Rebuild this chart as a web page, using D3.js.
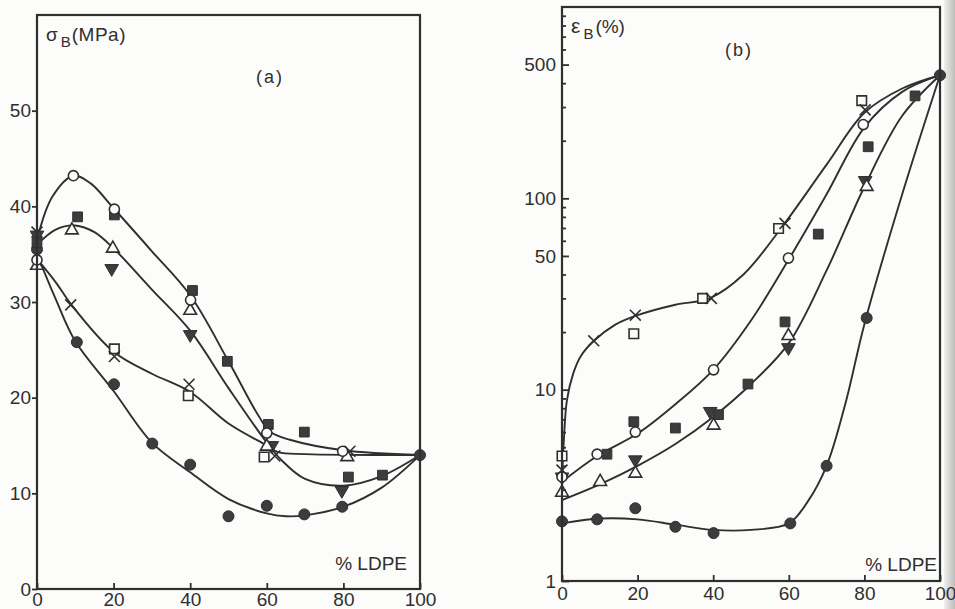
<!DOCTYPE html>
<html>
<head>
<meta charset="utf-8">
<script src="https://cdn.jsdelivr.net/npm/d3@7.9.0/dist/d3.min.js"></script>
<style>
  body { margin: 0; background: #fcfcfa; }
  svg { display: block; }
  text { font-family: "Liberation Sans", Arial, sans-serif; fill: #2f2f2f; }
</style>
</head>
<body>
<svg id="chart" width="955" height="609"></svg>
<script>
// tick labels
const pctTicks = [0, 20, 40, 60, 80, 100];
const stressTicks = [0, 10, 20, 30, 40, 50];
const strainTicks = [1, 10, 50, 100, 500];
const strainMinor = [2, 3, 4, 5, 6, 7, 8, 9, 20, 30, 40, 60, 70, 80, 90, 200, 300, 400, 600, 700, 800, 900];

// (a) tensile strength, [% LDPE, MPa]
const aOpenCircle = [[0, 34.4], [9.5, 43.2], [20.2, 39.7], [40.1, 30.2], [60, 16.3], [79.8, 14.4]];
const aFilledSquare = [[0, 36.2], [10.6, 38.9], [20.2, 39.1], [40.6, 31.2], [49.7, 23.8], [60.4, 17.2], [69.8, 16.4], [81.3, 11.7], [90.2, 11.9]];
const aOpenTriangle = [[0, 33.8], [9.1, 37.5], [19.8, 35.6], [40, 29.1], [60, 14.9], [81, 13.8]];
const aDownTriangle = [[0, 37], [19.5, 33.5], [40, 26.6], [61.3, 15], [79.6, 10.3]];
const aCross = [[0, 37.3], [8.8, 29.7], [20.2, 24.3], [39.7, 21.4], [62.1, 13.9], [81.7, 14.4]];
const aOpenSquare = [[20.2, 25.1], [39.5, 20.2], [59.3, 13.8]];
const aFilledCircle = [[0, 35.5], [10.4, 25.8], [20.1, 21.4], [30.1, 15.2], [40, 13], [50, 7.6], [60, 8.7], [69.8, 7.8], [79.7, 8.6], [100, 14]];

// (a) drawn fit curves
const aFitTop = [[0, 36.5], [4, 41], [9.5, 43.2], [14, 42.4], [20, 39.8], [30, 35.3], [40, 30.7], [50, 23.8], [58, 18], [61, 16.4], [66, 15.6], [80, 14.5], [100, 14]];
const aFitMid = [[0, 36], [5, 37.6], [10, 38], [15, 37.3], [20, 35.6], [30, 31.3], [40, 27], [50, 21], [60, 15.3], [64, 13.4], [70, 11.5], [80, 10.8], [90, 11.8], [100, 14]];
const aFitLow = [[0, 34.5], [5, 32], [9, 29.7], [20, 24.8], [30, 22.5], [40, 20.6], [50, 17.3], [60, 15], [63, 14.3], [70, 14.1], [100, 14]];
const aFitDot = [[0, 35], [5, 30.2], [10, 25.9], [20, 20.7], [30, 15.3], [40, 12.2], [50, 9.4], [60, 7.9], [65, 7.6], [70, 7.7], [80, 8.6], [90, 10.6], [100, 14]];

// (b) elongation at break, [% LDPE, %]
const bCross = [[0, 3.8], [8.4, 18], [19.4, 24.5], [39.5, 30], [59, 74], [80.2, 290]];
const bOpenSquare = [[0, 4.5], [19, 19.6], [37.2, 30], [57.3, 69.6], [79.3, 324]];
const bOpenCircle = [[0, 3.5], [9.3, 4.6], [19.4, 6.0], [40.1, 12.7], [59.9, 48.7], [79.7, 243]];
const bFilledSquare = [[11.9, 4.6], [19, 6.8], [30, 6.3], [41.4, 7.4], [49.2, 10.7], [59, 22.6], [67.8, 65], [81, 186], [93.4, 343]];
const bOpenTriangle = [[0, 2.9], [10.1, 3.3], [19.4, 3.65], [40.1, 6.5], [59.9, 19.1], [80.6, 115]];
const bDownTriangle = [[0, 3.5], [19.4, 4.3], [39.2, 7.7], [59.9, 16.6], [80.2, 124]];
const bFilledCircle = [[0, 2.05], [9.3, 2.1], [19.4, 2.4], [30, 1.92], [40.1, 1.78], [60.4, 2.0], [70, 4.0], [80.6, 23.7], [100, 440]];

// (b) drawn fit curves
const bFitTop = [[0, 3.4], [0.5, 5.5], [1.3, 8.8], [3, 12.2], [5, 15], [8.3, 17.9], [14, 21.8], [19.4, 24.3], [30, 27.8], [39, 30], [48, 40], [58, 70], [70, 150], [80, 280], [90, 375], [100, 440]];
const bFitMid = [[0, 3.3], [9.3, 4.5], [20, 5.9], [30, 8.4], [40, 12.7], [50, 23], [60, 48], [70, 105], [80, 235], [90, 360], [100, 440]];
const bFitLow = [[0, 2.65], [10, 3.2], [20, 4.0], [30, 5.2], [40, 7.2], [50, 10.7], [60, 17.5], [70, 42], [80, 115], [90, 270], [100, 440]];
const bFitDot = [[0, 2.0], [10, 2.12], [20, 2.1], [30, 1.97], [40, 1.85], [50, 1.85], [60, 2.0], [65, 2.6], [70, 4.0], [75, 8.5], [80, 22], [90, 105], [100, 440]];

const ink = '#2f2f2f';
const paper = '#fcfcfa';
const svg = d3.select('#chart');

// scan shadow on the right edge
const grad = svg.append('defs').append('linearGradient').attr('id', 'edge');
grad.append('stop').attr('offset', '0').attr('stop-color', '#f0f0ee');
grad.append('stop').attr('offset', '1').attr('stop-color', '#bdbdbb');
svg.append('rect').attr('x', 944).attr('y', 0).attr('width', 11).attr('height', 609).attr('fill', 'url(#edge)');

const xA = d3.scaleLinear().domain([0, 100]).range([37, 420]);
const yA = d3.scaleLinear().domain([0, 60]).range([589, 15]);
const xB = d3.scaleLinear().domain([0, 100]).range([562, 940]);
const yB = d3.scaleLog().domain([1, 1000]).range([581, 7]);

const markers = {
  openCircle: { type: d3.symbolCircle, size: 80, open: true },
  filledCircle: { type: d3.symbolCircle, size: 95, open: false },
  openSquare: { type: d3.symbolSquare, size: 90, open: true },
  filledSquare: { type: d3.symbolSquare, size: 95, open: false },
  openTriangle: { type: d3.symbolTriangle, size: 70, open: true },
  downTriangle: { type: d3.symbolTriangle, size: 80, open: false, flip: true },
  cross: { type: d3.symbolTimes, size: 80, open: true, bare: true }
};

function styleAxis(g) {
  g.select('.domain').remove();
  g.selectAll('.tick line').attr('stroke', ink).attr('stroke-width', 1.8);
  g.selectAll('.tick text').style('font-size', '19px');
}

function drawPanel(x, y, fits, series) {
  const line = d3.line()
    .x(d => x(d[0]))
    .y(d => y(d[1]))
    .curve(d3.curveCatmullRom.alpha(0.5));

  fits.forEach(f => {
    svg.append('path')
      .attr('d', line(f))
      .attr('fill', 'none')
      .attr('stroke', ink)
      .attr('stroke-width', 1.9);
  });

  series.forEach(([pts, kind]) => {
    const m = markers[kind];
    const sym = d3.symbol().type(m.type).size(m.size);
    svg.append('g').selectAll('path')
      .data(pts)
      .join('path')
      .attr('d', sym)
      .attr('transform', d => `translate(${x(d[0])},${y(d[1])})${m.flip ? ' rotate(180)' : ''}`)
      .attr('fill', m.bare ? 'none' : (m.open ? paper : '#3c3c3c'))
      .attr('stroke', ink)
      .attr('stroke-width', m.open ? 1.6 : 1);
  });

  // frame
  svg.append('rect')
    .attr('x', x.range()[0]).attr('y', y.range()[1])
    .attr('width', x.range()[1] - x.range()[0])
    .attr('height', y.range()[0] - y.range()[1])
    .attr('fill', 'none')
    .attr('stroke', ink)
    .attr('stroke-width', 2.2);
}

// ---- panel (a)
drawPanel(xA, yA, [aFitTop, aFitMid, aFitLow, aFitDot], [
  [aOpenSquare, 'openSquare'], [aCross, 'cross'], [aFilledCircle, 'filledCircle'],
  [aDownTriangle, 'downTriangle'], [aFilledSquare, 'filledSquare'],
  [aOpenTriangle, 'openTriangle'], [aOpenCircle, 'openCircle']
]);

svg.append('g')
  .attr('transform', 'translate(37,0)')
  .call(d3.axisLeft(yA).tickValues(stressTicks).tickSize(5).tickPadding(1))
  .call(styleAxis);

svg.append('g')
  .attr('transform', 'translate(0,589)')
  .call(d3.axisBottom(xA).tickValues(pctTicks).tickSizeInner(-6).tickSizeOuter(0).tickPadding(3))
  .call(styleAxis);

const titleA = svg.append('text').attr('x', 46).attr('y', 41).style('font-size', '19px');
titleA.append('tspan').text('σ');
titleA.append('tspan').attr('dx', 3).attr('dy', 6).style('font-size', '15px').text('B');
titleA.append('tspan').attr('dx', 1).attr('dy', -6).style('letter-spacing', '0.5px').text('(MPa)');

svg.append('text').attr('x', 270).attr('y', 83).attr('text-anchor', 'middle')
  .style('font-size', '18px').style('letter-spacing', '2px').text('(a)');
svg.append('text').attr('x', 407).attr('y', 570).attr('text-anchor', 'end')
  .style('font-size', '19px').text('% LDPE');

// ---- panel (b)
drawPanel(xB, yB, [bFitTop, bFitMid, bFitLow, bFitDot], [
  [bOpenSquare, 'openSquare'], [bCross, 'cross'], [bFilledSquare, 'filledSquare'],
  [bDownTriangle, 'downTriangle'], [bOpenTriangle, 'openTriangle'],
  [bOpenCircle, 'openCircle'], [bFilledCircle, 'filledCircle']
]);

svg.append('g')
  .attr('transform', 'translate(562,0)')
  .call(d3.axisLeft(yB).tickValues(strainMinor).tickSize(-4).tickFormat(''))
  .call(styleAxis);

svg.append('g')
  .attr('transform', 'translate(562,0)')
  .call(d3.axisLeft(yB).tickValues(strainTicks).tickFormat(d3.format('d')).tickSizeInner(-7).tickSizeOuter(0).tickPadding(6))
  .call(styleAxis);

svg.append('g')
  .attr('transform', 'translate(0,581)')
  .call(d3.axisBottom(xB).tickValues(pctTicks).tickSizeInner(-6).tickSizeOuter(0).tickPadding(6))
  .call(styleAxis);

const titleB = svg.append('text').attr('x', 571).attr('y', 33).style('font-size', '19px');
titleB.append('tspan').style('font-size', '21px').text('ε');
titleB.append('tspan').attr('dx', 3).attr('dy', 6).style('font-size', '15px').text('B');
titleB.append('tspan').attr('dx', 2).attr('dy', -6).text('(%)');

svg.append('text').attr('x', 739).attr('y', 56).attr('text-anchor', 'middle')
  .style('font-size', '18px').style('letter-spacing', '2px').text('(b)');
svg.append('text').attr('x', 937).attr('y', 571).attr('text-anchor', 'end')
  .style('font-size', '19px').text('% LDPE');
</script>
</body>
</html>
